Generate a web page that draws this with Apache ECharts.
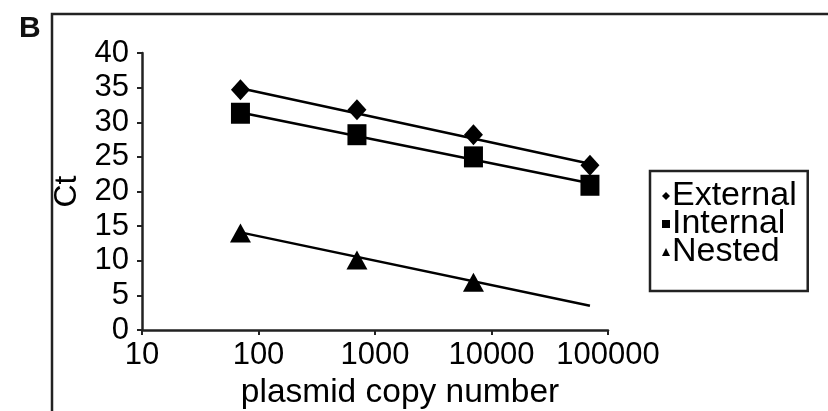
<!DOCTYPE html>
<html>
<head>
<meta charset="utf-8">
<script src="https://cdn.jsdelivr.net/npm/echarts@6/dist/echarts.min.js"></script>
<style>html,body{margin:0;padding:0;background:#fff}#c{width:828px;height:411px}</style>
</head>
<body>
<div id="c"></div>
<script>
// Data
var copies = [70, 700, 7000, 70000];
var externalCt = [34.7, 31.8, 28.2, 23.8];
var internalCt = [31.3, 28.2, 25.0, 20.9];
var nestedCt = [14.0, 10.1, 6.9];
var nestedCopies = [70, 700, 7000];
// Trend line endpoints (at 70 and 70000 copies)
var trendX = [70, 70000];
var externalTrend = [34.9, 24.0];
var internalTrend = [31.4, 21.2];
var nestedTrend = [14.1, 3.5];
var yTicks = [0, 5, 10, 15, 20, 25, 30, 35, 40];
var seriesNames = ['External', 'Internal', 'Nested'];

function pairs(xs, ys) { return xs.map(function (x, i) { return [x, ys[i]]; }); }

var FONT = '"Liberation Sans", Arial, sans-serif';
var chart = echarts.init(document.getElementById('c'), null, { renderer: 'canvas' });
var lineStyle = { color: '#000', width: 2.5 };
chart.setOption({
  animation: false,
  backgroundColor: '#fff',
  textStyle: { fontFamily: FONT, color: '#000' },
  grid: { left: 142, right: 220, top: 53, bottom: 81, containLabel: false, outerBoundsMode: 'none' },
  graphic: [
    { type: 'polyline', shape: { points: [[52, 411], [52, 14], [828, 14]] }, style: { stroke: '#222', lineWidth: 2.5, fill: null } },
    { type: 'text', left: 19, top: 14, style: { text: 'B', fontSize: 30, fontWeight: 'bold', fontFamily: FONT, fill: '#111' } }
  ],
  legend: {
    orient: 'vertical',
    left: 650, top: 171,
    padding: [8, 11, 22, 12],
    itemGap: -6,
    itemWidth: 8, itemHeight: 8,
    borderColor: '#222', borderWidth: 2.5,
    textStyle: { fontSize: 34, color: '#000', fontFamily: FONT, padding: [0, 0, 0, -3] },
    data: [
      { name: seriesNames[0], icon: 'diamond' },
      { name: seriesNames[1], icon: 'rect' },
      { name: seriesNames[2], icon: 'triangle' }
    ]
  },
  xAxis: {
    type: 'log', logBase: 10, min: 10, max: 100000,
    name: 'plasmid copy number', nameLocation: 'middle', nameGap: 46,
    nameTextStyle: { fontSize: 33.5, color: '#000', padding: [0, 0, 0, 50] },
    axisLine: { lineStyle: { color: '#222', width: 2.5 } },
    axisTick: { show: true, length: 5, lineStyle: { color: '#222', width: 2 } },
    minorTick: { show: false },
    splitLine: { show: false },
    axisLabel: { fontSize: 31, color: '#000', margin: 10, formatter: function (v) { return String(Math.round(v)); } }
  },
  yAxis: {
    type: 'value', min: 0, max: 40, interval: 5,
    name: 'Ct', nameLocation: 'middle', nameGap: 55, nameRotate: 90,
    nameTextStyle: { fontSize: 32, color: '#000' },
    axisLine: { show: true, lineStyle: { color: '#222', width: 2.5 } },
    axisTick: { show: true, length: 5, lineStyle: { color: '#222', width: 2 } },
    splitLine: { show: false },
    axisLabel: { fontSize: 31, color: '#000', margin: 13, padding: [0, 0, 8, 0],
      formatter: function (v) { return yTicks.indexOf(v) >= 0 ? String(v) : ''; } }
  },
  series: [
    { type: 'line', name: 'extTrend', data: pairs(trendX, externalTrend), symbol: 'none', lineStyle: lineStyle, z: 2 },
    { type: 'line', name: 'intTrend', data: pairs(trendX, internalTrend), symbol: 'none', lineStyle: lineStyle, z: 2 },
    { type: 'line', name: 'nesTrend', data: pairs(trendX, nestedTrend), symbol: 'none', lineStyle: lineStyle, z: 2 },
    { type: 'scatter', name: seriesNames[1], data: pairs(copies, internalCt), symbol: 'rect', symbolSize: [19, 21], itemStyle: { color: '#000', opacity: 1 }, z: 3 },
    { type: 'scatter', name: seriesNames[0], data: pairs(copies, externalCt), symbol: 'diamond', symbolSize: [19, 21], itemStyle: { color: '#000', opacity: 1 }, z: 4 },
    { type: 'scatter', name: seriesNames[2], data: pairs(nestedCopies, nestedCt), symbol: 'triangle', symbolSize: [21, 19], itemStyle: { color: '#000', opacity: 1 }, z: 3 }
  ]
});
</script>
</body>
</html>
